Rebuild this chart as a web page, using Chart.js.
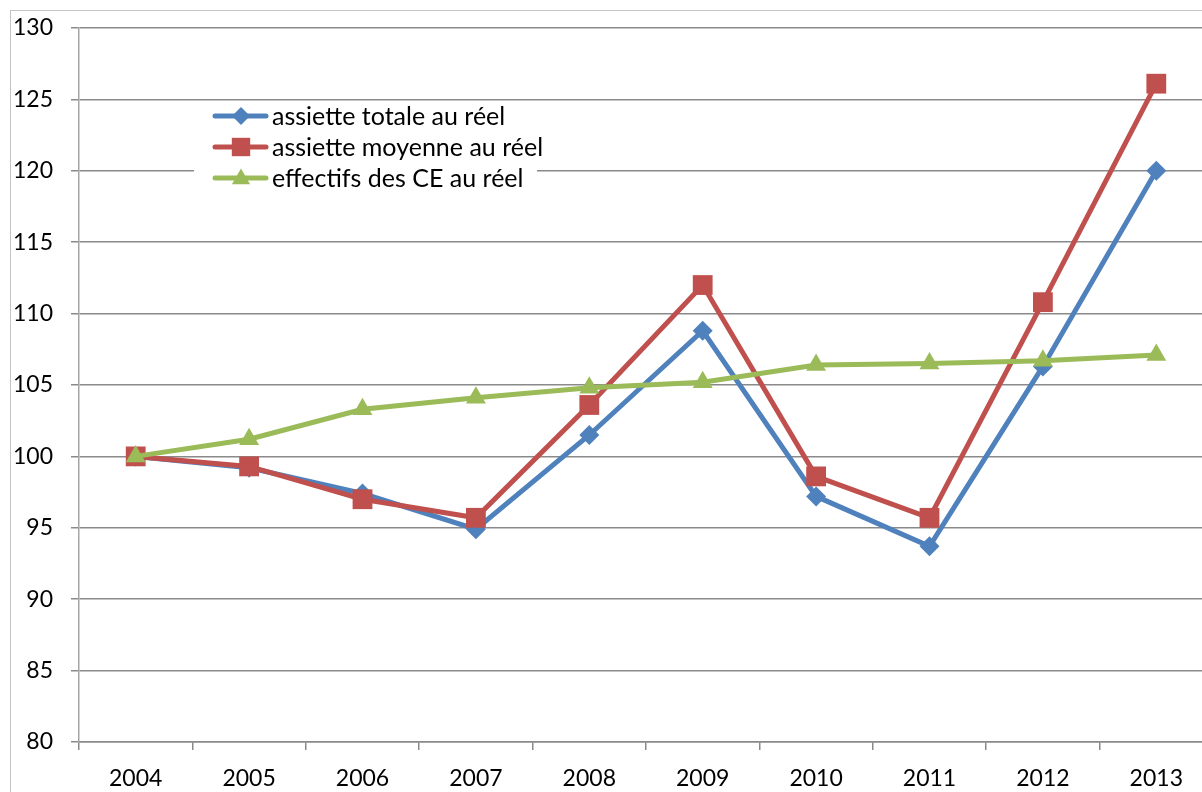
<!DOCTYPE html>
<html><head><meta charset="utf-8">
<script src="https://cdn.jsdelivr.net/npm/chart.js@4"></script>
<style>
html,body{margin:0;padding:0;overflow:hidden;background:#fff}
#wrap{width:1227px;height:792px;position:absolute;left:0;top:0}
canvas{display:block}
</style></head>
<body>
<div id="wrap"><canvas id="c" width="1227" height="792" style="width:1227px;height:792px"></canvas></div>
<script>
const years = ['2004','2005','2006','2007','2008','2009','2010','2011','2012','2013'];
const assietteTotale  = [100, 99.2, 97.4, 94.9, 101.5, 108.8, 97.2, 93.7, 106.3, 120.0];
const assietteMoyenne = [100, 99.3, 97.0, 95.7, 103.6, 112.0, 98.6, 95.7, 110.8, 126.1];
const effectifs       = [100, 101.2, 103.3, 104.1, 104.8, 105.2, 106.4, 106.5, 106.7, 107.1];
const seriesNames = ['assiette totale au réel', 'assiette moyenne au réel', 'effectifs des CE au réel'];
const yMin = 80, yMax = 130, yStep = 5;

const BLUE = '#4F81BD', RED = '#C0504D', GREEN = '#9BBB59';
const FONT = 'Lato';

const frame = {
  id: 'frame',
  beforeDraw(chart) {
    const ctx = chart.ctx;
    ctx.save();
    ctx.strokeStyle = '#c4c4c4';
    ctx.lineWidth = 1;
    ctx.strokeRect(10.5, 10.5, 1300, 900);
    ctx.restore();
  }
};

const legendBox = {
  id: 'legendBox',
  afterDraw(chart) {
    const ctx = chart.ctx;
    ctx.save();
    ctx.fillStyle = '#fff';
    ctx.fillRect(194, 104, 343, 83);
    const rows = [116, 147, 178];
    chart.data.datasets.forEach((ds, i) => {
      const y = rows[i];
      ctx.strokeStyle = ds.borderColor;
      ctx.lineWidth = 5;
      ctx.lineCap = 'round';
      ctx.beginPath();
      ctx.moveTo(215, y); ctx.lineTo(266, y);
      ctx.stroke();
      ctx.fillStyle = ds.backgroundColor;
      ctx.strokeStyle = ds.backgroundColor;
      ctx.lineWidth = 0.01;
      Chart.helpers.drawPoint(ctx, {pointStyle: ds.pointStyle, rotation: 0, borderWidth: 0, radius: ds.legendRadius},
        241, y + (ds.pointStyle === 'triangle' ? 1 : 0));
      ctx.fillStyle = '#000';
      ctx.font = '25px "' + FONT + '"';
      ctx.textBaseline = 'middle';
      ctx.textAlign = 'left';
      ctx.fillText(seriesNames[i], 272, y + 1);
    });
    ctx.restore();
  }
};

function noPad(s) { s.paddingLeft = 0; s.paddingRight = 0; s.paddingTop = 0; s.paddingBottom = 0; }

new Chart(document.getElementById('c'), {
  type: 'line',
  data: {
    labels: years,
    datasets: [
      {label: seriesNames[0], data: assietteTotale, borderColor: BLUE, backgroundColor: BLUE,
       pointStyle: 'rectRot', pointRadius: 10, legendRadius: 9, pointBorderWidth: 0, borderWidth: 5, order: 3},
      {label: seriesNames[1], data: assietteMoyenne, borderColor: RED, backgroundColor: RED,
       pointStyle: 'rect', pointRadius: 14, legendRadius: 13, pointBorderWidth: 0, borderWidth: 5, order: 2},
      {label: seriesNames[2], data: effectifs, borderColor: GREEN, backgroundColor: GREEN,
       pointStyle: 'triangle', pointRadius: 11.5, legendRadius: 10.5, pointBorderWidth: 0, borderWidth: 5, order: 1}
    ]
  },
  options: {
    responsive: false,
    maintainAspectRatio: false,
    animation: false,
    events: [],
    layout: {padding: {left: 0, top: 28, right: 1, bottom: 0}},
    plugins: {legend: {display: false}, tooltip: {enabled: false}, title: {display: false}},
    elements: {line: {tension: 0}},
    scales: {
      x: {
        type: 'category',
        offset: true,
        grid: {offset: true, drawOnChartArea: false, drawTicks: true, tickLength: 8, color: '#8a8a8a', lineWidth: 1.5},
        border: {display: true, color: '#8a8a8a', width: 1.5},
        ticks: {color: '#000', font: {family: FONT, size: 23}, padding: 15, maxRotation: 0, autoSkip: false},
        afterFit(s) { s.height = 50; noPad(s); }
      },
      y: {
        min: yMin, max: yMax,
        grid: {color: '#8a8a8a', lineWidth: 1.5, tickLength: 8, drawTicks: true},
        border: {display: true, color: '#a6a6a6', width: 1.5},
        ticks: {stepSize: yStep, color: '#000', font: {family: FONT, size: 23}, padding: 18},
        afterFit(s) { s.width = 79; noPad(s); }
      }
    }
  },
  plugins: [frame, legendBox]
});
</script>
</body></html>
